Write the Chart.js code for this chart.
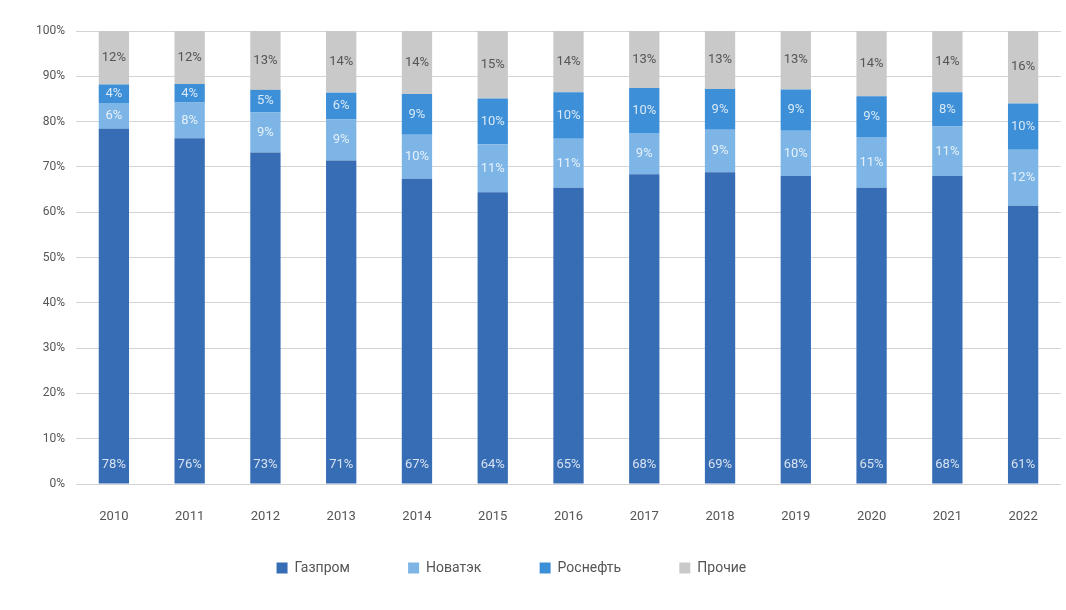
<!DOCTYPE html>
<html>
<head>
<meta charset="utf-8">
<script src="https://cdn.jsdelivr.net/npm/chart.js@4"></script>
<style>
  html, body { margin: 0; padding: 0; background: #fff; }
  #wrap { width: 1066px; height: 610px; }
</style>
</head>
<body>
<div id="wrap"><canvas id="shareChart"></canvas></div>
<script>
const years = ["2010", "2011", "2012", "2013", "2014", "2015", "2016", "2017", "2018", "2019", "2020", "2021", "2022"];
const gazprom  = [78.4, 76.3, 73.2, 71.4, 67.4, 64.4, 65.4, 68.4, 68.8, 68.0, 65.4, 68.0, 61.4];
const novatek  = [5.7, 7.9, 8.8, 9.1, 9.7, 10.6, 10.8, 9.1, 9.4, 10.0, 11.2, 10.9, 12.4];
const rosneft  = [4.1, 4.1, 5.0, 5.9, 9.0, 10.1, 10.3, 9.9, 9.0, 9.1, 9.0, 7.6, 10.2];
const others   = [11.8, 11.7, 13.0, 13.6, 13.9, 14.9, 13.5, 12.6, 12.8, 12.9, 14.4, 13.5, 16.0];
const yTicks   = [0, 10, 20, 30, 40, 50, 60, 70, 80, 90, 100];

const FONT = "Roboto, 'DejaVu Sans', sans-serif";

// labels inside the bar segments
const segmentLabels = {
    id: "segmentLabels",
    afterDatasetsDraw(chart) {
        const ctx = chart.ctx;
        ctx.save();
        ctx.font = "13px " + FONT;
        ctx.textAlign = "center";
        ctx.textBaseline = "middle";
        chart.data.datasets.forEach((ds, di) => {
            const meta = chart.getDatasetMeta(di);
            if (meta.hidden) return;
            meta.data.forEach((bar, i) => {
                const txt = Math.round(ds.data[i]) + "%";
                let y = (bar.y + bar.base) / 2;
                if (di === 0) y = bar.base - 19;
                ctx.fillStyle = di === 3 ? "#555555" : "rgba(255,255,255,0.8)";
                ctx.fillText(txt, bar.x, y);
            });
        });
        ctx.restore();
    }
};

const ctx = document.getElementById("shareChart").getContext("2d");
new Chart(ctx, {
    type: "bar",
    data: {
        labels: years,
        datasets: [
            { label: "Газпром",  data: gazprom, backgroundColor: "#376db4" },
            { label: "Новатэк",  data: novatek, backgroundColor: "#7db5e6" },
            { label: "Роснефть", data: rosneft, backgroundColor: "#3d8fd7" },
            { label: "Прочие",   data: others,  backgroundColor: "#c9c9c9" }
        ]
    },
    options: {
        responsive: true,
        maintainAspectRatio: false,
        animation: false,
        datasets: {
            bar: { barPercentage: 0.4, categoryPercentage: 1.0, borderWidth: 0 }
        },
        layout: { padding: { top: 31, right: 5, left: 0, bottom: 25 } },
        plugins: {
            legend: {
                position: "bottom",
                labels: {
                    boxWidth: 11,
                    boxHeight: 11,
                    padding: 20,
                    color: "#555555",
                    font: { family: FONT, size: 14 },
                    // wider gaps between items without pushing the row down
                    generateLabels(chart) {
                        const items = Chart.defaults.plugins.legend.labels.generateLabels(chart);
                        items.forEach(it => { it.text = it.text + " ".repeat(11); });
                        return items;
                    }
                }
            },
            tooltip: { enabled: false }
        },
        scales: {
            x: {
                stacked: true,
                afterFit(scale) { scale.height = 57; },
                grid: { display: false, drawTicks: false },
                border: { display: false },
                ticks: {
                    color: "#555555",
                    padding: 25,
                    font: { family: FONT, size: 13 }
                }
            },
            y: {
                stacked: true,
                min: 0,
                max: 100,
                afterFit(scale) { scale.width = 76; },
                afterBuildTicks(scale) { scale.ticks = yTicks.map(v => ({ value: v })); },
                grid: { color: "#d4d4d4", drawTicks: false },
                border: { display: false },
                ticks: {
                    color: "#555555",
                    padding: 11,
                    font: { family: FONT, size: 12 },
                    callback: v => v + "%"
                }
            }
        }
    },
    plugins: [segmentLabels]
});
</script>
</body>
</html>
